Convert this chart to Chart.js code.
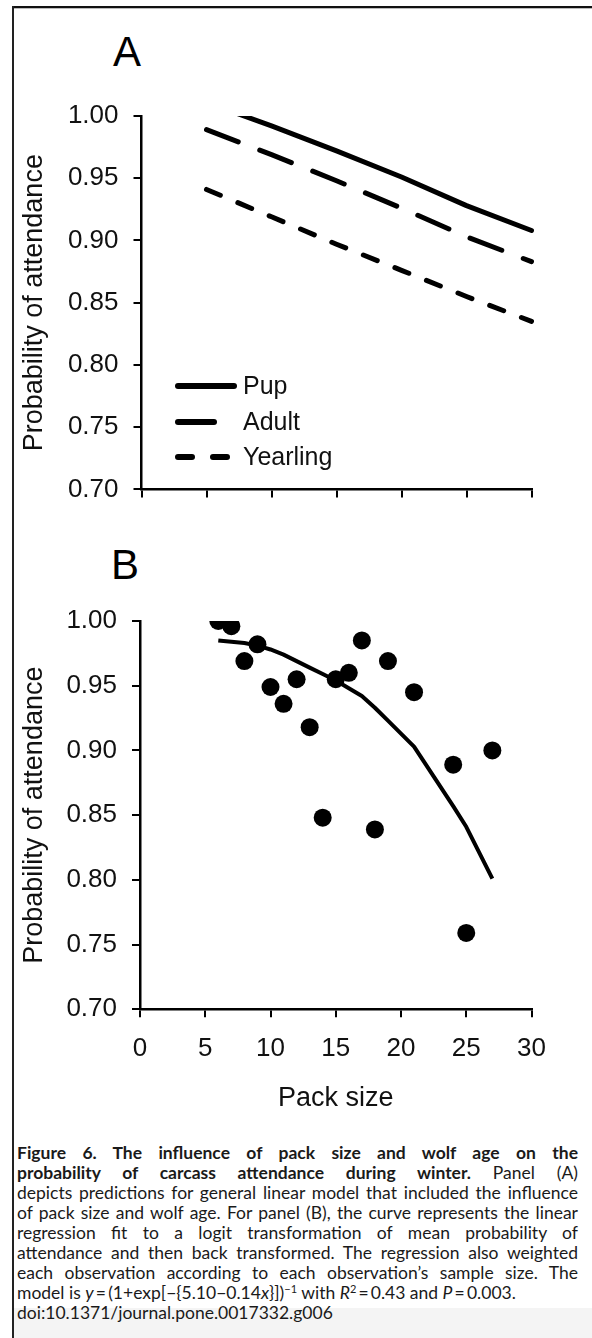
<!DOCTYPE html>
<html><head><meta charset="utf-8">
<script src="https://cdn.jsdelivr.net/npm/chart.js@4.4.0/dist/chart.umd.min.js"></script>
<style>
html,body{margin:0;padding:0;background:#fff;}
body{width:592px;height:1338px;position:relative;overflow:hidden;font-family:"Liberation Sans",Arial,sans-serif;}
#frameTop{position:absolute;left:12px;top:6px;width:580px;height:2px;background:#111;}
#frameTop2{position:absolute;left:12px;top:8px;width:580px;height:1px;background:#bbb;}
#frameLeft{position:absolute;left:12px;top:6px;width:2px;height:1332px;background:#222;}
#grey{position:absolute;left:14px;top:1308px;width:578px;height:30px;background:#f4f4f4;}
.cv{position:absolute;left:0;}
.panel{position:absolute;font-size:42px;line-height:42px;color:#000;}
#cap{position:absolute;left:17px;top:1143px;width:561px;font-family:Lato,"Liberation Sans",sans-serif;font-size:17.5px;line-height:20px;color:#1a1a1a;}
#cap div{white-space:nowrap;}
#cap div.j{text-align:justify;text-align-last:justify;}
#cap sup{font-size:11px;line-height:0;vertical-align:6px;}
</style>
</head><body>
<div id="frameTop"></div><div id="frameTop2"></div><div id="frameLeft"></div><div id="grey"></div>
<div class="panel" style="left:113px;top:31px;">A</div>
<div class="panel" style="left:111px;top:544px;">B</div>
<div class="cv" style="top:0;width:592px;height:520px;"><canvas id="cA"></canvas></div>
<div class="cv" style="top:520px;width:592px;height:600px;"><canvas id="cB"></canvas></div>
<div id="cap">
<div class="j"><b>Figure 6. The influence of pack size and wolf age on the</b></div>
<div class="j"><b>probability of carcass attendance during winter.</b> Panel (A)</div>
<div class="j">depicts predictions for general linear model that included the influence</div>
<div class="j">of pack size and wolf age. For panel (B), the curve represents the linear</div>
<div class="j">regression fit to a logit transformation of mean probability of</div>
<div class="j">attendance and then back transformed. The regression also weighted</div>
<div class="j">each observation according to each observation’s sample size. The</div>
<div>model is <i>y</i>&#8201;=&#8201;(1+exp[−{5.10−0.14<i>x</i>}])<sup>−1</sup> with <i>R</i><sup>2</sup>&#8201;=&#8201;0.43 and <i>P</i>&#8201;=&#8201;0.003.</div>
<div>doi:10.1371/journal.pone.0017332.g006</div>
</div>
<script>
// ---- Panel A: model predictions ----
const packSizeA = [5, 10, 15, 20, 25, 30];
const pupA      = [1.011, 0.992, 0.972, 0.951, 0.928, 0.908];
const adultA    = [0.989, 0.969, 0.948, 0.926, 0.903, 0.883];
const yearlingA = [0.941, 0.919, 0.897, 0.876, 0.855, 0.835];
const seriesLabelsA = ['Pup', 'Adult', 'Yearling'];

// ---- Panel B: observations and fitted curve ----
const obsPackSize   = [6, 7, 8, 9, 10, 11, 12, 13, 14, 15, 16, 17, 18, 19, 21, 24, 25, 27];
const obsAttendance = [1.000, 0.996, 0.969, 0.982, 0.949, 0.936, 0.955, 0.918, 0.848, 0.955, 0.960, 0.985, 0.839, 0.969, 0.945, 0.889, 0.759, 0.900];
const fitPackSize   = [6, 7, 8, 9, 10, 11, 12, 13, 14, 15, 16, 17, 18, 19, 21, 24, 25, 27];
const fitAttendance = [0.985, 0.984, 0.983, 0.981, 0.978, 0.974, 0.969, 0.964, 0.959, 0.954, 0.948, 0.942, 0.933, 0.923, 0.903, 0.857, 0.841, 0.801];

const yTicks = [0.70, 0.75, 0.80, 0.85, 0.90, 0.95, 1.00];
const xTicks = [0, 5, 10, 15, 20, 25, 30];
const yTitle = 'Probability of attendance';
const xTitle = 'Pack size';

const pts = (xs, ys) => xs.map((x, i) => ({x, y: ys[i]}));
const FONT = '"Liberation Sans", Arial, sans-serif';

// fit caption lines to the column width
document.querySelectorAll('#cap div').forEach(d => {
  let ls = 0;
  while (d.scrollWidth > 561 && ls > -1.5) { ls -= 0.05; d.style.letterSpacing = ls + 'px'; }
});

function yScale(width) {
  return {
    type: 'linear', min: yTicks[0], max: yTicks[yTicks.length - 1],
    afterBuildTicks: s => { s.ticks = yTicks.map(v => ({value: v})); },
    ticks: {font: {family: FONT, size: 26}, color: '#111', padding: 15, callback: v => Number(v).toFixed(2)},
    grid: {drawOnChartArea: false, drawTicks: true, tickLength: 8, color: '#000', lineWidth: 2},
    border: {color: '#000', width: 2.5},
    title: {display: true, text: yTitle, font: {family: FONT, size: 27}, color: '#111', padding: {top: 18, bottom: 0}},
    afterFit: s => { s.width = width; }
  };
}
function xScale(height, showLabels) {
  return {
    type: 'linear', min: xTicks[0], max: xTicks[xTicks.length - 1],
    afterBuildTicks: s => { s.ticks = xTicks.map(v => ({value: v})); },
    ticks: {display: showLabels, font: {family: FONT, size: 26}, color: '#111', padding: 16, maxRotation: 0},
    grid: {drawOnChartArea: false, drawTicks: true, tickLength: 8, color: '#000', lineWidth: 2},
    border: {color: '#000', width: 2.5},
    title: {display: showLabels, text: xTitle, font: {family: FONT, size: 27}, color: '#111', padding: {top: 0, bottom: 5}},
    afterFit: s => { s.height = height; }
  };
}

const legendA = {
  id: 'legendA',
  afterDatasetsDraw(chart) {
    const ctx = chart.ctx;
    const rows = [
      {y: 386, dash: [], x1: 178, x2: 234},
      {y: 422, dash: [], x1: 178, x2: 214},
      {y: 457, dash: [14, 21], x1: 178, x2: 229}
    ];
    ctx.save();
    chart.data.datasets.forEach((ds, i) => {
      const r = rows[i];
      ctx.beginPath();
      ctx.setLineDash(r.dash);
      ctx.lineCap = 'round';
      ctx.lineWidth = 6;
      ctx.strokeStyle = '#000';
      ctx.moveTo(r.x1, r.y); ctx.lineTo(r.x2, r.y);
      ctx.stroke();
      ctx.setLineDash([]);
      ctx.fillStyle = '#111';
      ctx.font = '25px ' + FONT;
      ctx.textBaseline = 'middle';
      ctx.textAlign = 'left';
      ctx.fillText(ds.label, 243, r.y + 1);
    });
    ctx.restore();
  }
};

Chart.defaults.animation = false;
Chart.defaults.events = [];

new Chart(document.getElementById('cA'), {
  type: 'line',
  data: {
    datasets: [
      {label: seriesLabelsA[0], data: pts(packSizeA, pupA), borderColor: '#000', borderWidth: 5, pointRadius: 0, borderCapStyle: 'round', borderJoinStyle: 'round', clip: {left: 5, top: 0, right: 5, bottom: 5}},
      {label: seriesLabelsA[1], data: pts(packSizeA, adultA), borderColor: '#000', borderWidth: 5, pointRadius: 0, borderDash: [34, 23], borderCapStyle: 'round', clip: {left: 5, top: 0, right: 5, bottom: 5}},
      {label: seriesLabelsA[2], data: pts(packSizeA, yearlingA), borderColor: '#000', borderWidth: 5, pointRadius: 0, borderDash: [15, 19], borderCapStyle: 'round', clip: {left: 5, top: 0, right: 5, bottom: 5}}
    ]
  },
  options: {
    responsive: true, maintainAspectRatio: false,
    layout: {padding: {top: 116, right: 60.5, bottom: 0, left: 0}},
    plugins: {legend: {display: false}, tooltip: {enabled: false}},
    scales: {x: xScale(520 - 503.3, false), y: yScale(141.5)}
  },
  plugins: [legendA]
});

new Chart(document.getElementById('cB'), {
  type: 'scatter',
  data: {
    datasets: [
      {label: 'Observed', data: pts(obsPackSize, obsAttendance), backgroundColor: '#000', borderWidth: 0, pointRadius: 9, order: 0},
      {label: 'Fit', type: 'line', data: pts(fitPackSize, fitAttendance), borderColor: '#000', borderWidth: 4, pointRadius: 0, showLine: true, fill: false, borderCapStyle: 'butt', borderJoinStyle: 'round', order: 1}
    ]
  },
  options: {
    responsive: true, maintainAspectRatio: false,
    layout: {padding: {top: 101, right: 60.5, bottom: 0, left: 0}},
    plugins: {legend: {display: false}, tooltip: {enabled: false}},
    scales: {x: xScale(1120 - 1009.3, true), y: yScale(140)}
  }
});
</script>
</body></html>
